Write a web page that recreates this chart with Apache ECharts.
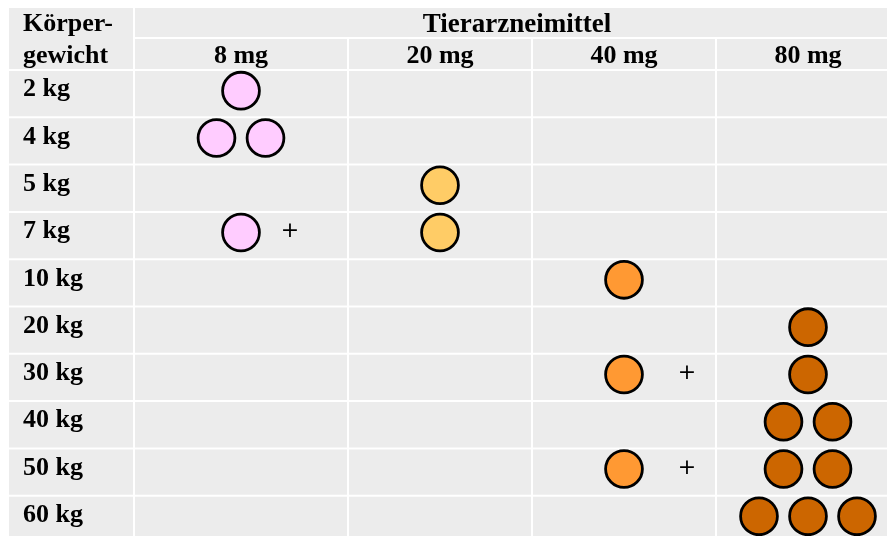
<!DOCTYPE html>
<html>
<head>
<meta charset="utf-8">
<script src="https://cdn.jsdelivr.net/npm/echarts@6/dist/echarts.min.js"></script>
<style>
  html, body { margin: 0; padding: 0; background: #fff; }
  #chart { width: 887px; height: 536px; }
</style>
</head>
<body>
<div id="chart"></div>
<script>
// Dosiertabelle: Anzahl Tabletten je Körpergewicht und Stärke
const weights = ['2 kg', '4 kg', '5 kg', '7 kg', '10 kg', '20 kg', '30 kg', '40 kg', '50 kg', '60 kg'];
const strengths = ['8 mg', '20 mg', '40 mg', '80 mg'];
const tablets8mg = [1, 2, 0, 1, 0, 0, 0, 0, 0, 0];
const tablets20mg = [0, 0, 1, 1, 0, 0, 0, 0, 0, 0];
const tablets40mg = [0, 0, 0, 0, 1, 0, 1, 0, 1, 0];
const tablets80mg = [0, 0, 0, 0, 0, 1, 1, 2, 2, 3];
const tabletColors = ['#FFCCFF', '#FFCC66', '#FF9933', '#CC6600'];

// layout
const COL_W = [214, 184, 184, 184];
const LABEL_COL_W = 126;
const ROW_H = 47.3;
const HEAD_H = [31, 32]; // Titelzeile, Stärkezeile
const CELL_BG = '#ECECEC';
const GAP = 1;
const FONT = '"Liberation Serif", "Times New Roman", serif';
const PLUS_DX = [49, 55, 63, 0];
const TAB_R = 18.4, TAB_STEP = 49, TAB_DY = -3, PLUS_DY = -4;

const colEdges = [0];
COL_W.forEach((w) => colEdges.push(colEdges[colEdges.length - 1] + w));
const colCenters = COL_W.map((w, i) => colEdges[i] + w / 2);
const tabletCols = [tablets8mg, tablets20mg, tablets40mg, tablets80mg];

const cellData = [];
weights.forEach((_, r) => {
    for (let c = -1; c < strengths.length; c++) cellData.push([c, r]);
});

const headData = [[-1, 0], [0, 0], [1, 0], [2, 0], [3, 0], [0, 1]];

const tabletData = [];
tabletCols.forEach((arr, c) => {
    arr.forEach((n, r) => {
        if (n > 0) {
            const more = tabletCols.slice(c + 1).some((a) => a[r] > 0);
            tabletData.push([colCenters[c], r, n, c, more ? 1 : 0]);
        }
    });
});

function cellRect(x0, y0, x1, y1) {
    return {
        type: 'rect',
        shape: { x: x0 + GAP, y: y0 + GAP, width: x1 - x0 - 2 * GAP, height: y1 - y0 - 2 * GAP },
        style: { fill: CELL_BG }
    };
}

function renderCell(params, api) {
    const c = api.value(0), r = api.value(1);
    const cs = params.coordSys;
    const yc = api.coord([0, r])[1];
    const h = api.size([0, 1])[1];
    let x0, x1;
    if (c < 0) {
        x0 = cs.x - LABEL_COL_W;
        x1 = cs.x;
    } else {
        x0 = api.coord([colEdges[c], r])[0];
        x1 = api.coord([colEdges[c + 1], r])[0];
    }
    return cellRect(x0, yc - h / 2, x1, yc + h / 2);
}

function renderHead(params, api) {
    const c = api.value(0), level = api.value(1);
    const cs = params.coordSys;
    const top = cs.y - HEAD_H[0] - HEAD_H[1];
    if (c < 0) return cellRect(cs.x - LABEL_COL_W, top, cs.x, cs.y);
    if (level === 1) {
        return cellRect(cs.x, top, api.coord([colEdges[colEdges.length - 1], 0])[0], top + HEAD_H[0]);
    }
    const x0 = api.coord([colEdges[c], 0])[0];
    const x1 = api.coord([colEdges[c + 1], 0])[0];
    return cellRect(x0, cs.y - HEAD_H[1], x1, cs.y);
}

function renderTablets(params, api) {
    const pt = api.coord([api.value(0), api.value(1)]);
    const n = api.value(2), c = api.value(3), plus = api.value(4);
    const children = [];
    for (let i = 0; i < n; i++) {
        children.push({
            type: 'circle',
            shape: { cx: pt[0] + (i - (n - 1) / 2) * TAB_STEP, cy: pt[1] + TAB_DY, r: TAB_R },
            style: { fill: tabletColors[c], stroke: '#000', lineWidth: 2.8 }
        });
    }
    if (plus) {
        children.push({
            type: 'text',
            x: pt[0] + PLUS_DX[c],
            y: pt[1] + PLUS_DY,
            style: { text: '+', fontSize: 22, fontFamily: '"DejaVu Sans", sans-serif', fill: '#000', align: 'center', verticalAlign: 'middle' }
        });
    }
    return { type: 'group', children };
}

const chart = echarts.init(document.getElementById('chart'));
chart.setOption({
    animation: false,
    backgroundColor: '#fff',
    grid: {
        left: 8 + LABEL_COL_W,
        top: 7 + HEAD_H[0] + HEAD_H[1],
        width: colEdges[colEdges.length - 1],
        height: ROW_H * weights.length,
        outerBoundsMode: 'none',
        containLabel: false
    },
    xAxis: {
        type: 'value',
        min: 0,
        max: colEdges[colEdges.length - 1],
        position: 'top',
        z: 5,
        name: 'Tierarzneimittel',
        nameLocation: 'middle',
        nameGap: 30,
        nameTextStyle: { fontFamily: FONT, fontWeight: 'bold', fontSize: 27, color: '#000' },
        axisLine: { show: false },
        axisTick: { show: false },
        splitLine: { show: false },
        axisLabel: {
            customValues: colCenters,
            formatter: (v) => strengths[colCenters.indexOf(v)] || '',
            margin: 1,
            fontFamily: FONT,
            fontWeight: 'bold',
            fontSize: 26,
            color: '#000'
        }
    },
    yAxis: {
        type: 'category',
        data: weights,
        inverse: true,
        z: 5,
        axisLine: { show: false },
        axisTick: { show: false },
        splitLine: { show: false },
        axisLabel: {
            align: 'left',
            verticalAlign: 'bottom',
            lineHeight: 8,
            margin: 111,
            fontFamily: FONT,
            fontWeight: 'bold',
            fontSize: 26,
            color: '#000'
        }
    },
    graphic: [{
        type: 'text',
        left: 23,
        top: 8,
        z: 10,
        style: {
            text: 'Körper-\ngewicht',
            fontFamily: FONT,
            fontWeight: 'bold',
            fontSize: 26,
            lineHeight: 32,
            fill: '#000'
        }
    }],
    series: [
        { type: 'custom', name: 'head', data: headData, renderItem: renderHead, clip: false, silent: true, z: 0 },
        { type: 'custom', name: 'cells', data: cellData, renderItem: renderCell, clip: false, silent: true, z: 0 },
        { type: 'custom', name: 'tablets', data: tabletData, renderItem: renderTablets, clip: false, silent: true, z: 3 }
    ]
});
</script>
</body>
</html>
